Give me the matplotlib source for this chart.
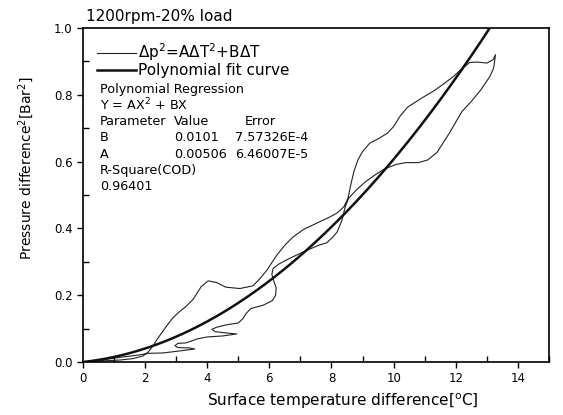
import numpy as np
import matplotlib.pyplot as plt
from matplotlib.ticker import MultipleLocator

plt.rcParams['font.family'] = ['DejaVu Sans']
plt.rcParams['mathtext.fontset'] = 'dejavusans'

# measured loop: temperature difference vs pressure difference^2
# (up branch then back down to origin)
dT = [0.0, 0.6, 1.2, 1.6, 1.93, 2.1, 2.25, 2.4, 2.57, 2.75, 2.9, 3.1, 3.3, 3.55,
      3.8, 4.03, 4.3, 4.6, 5.05, 5.47, 5.7, 5.92, 6.24, 6.5, 6.76, 7.1, 7.53, 7.9,
      8.18, 8.4, 8.53, 8.62, 8.72, 8.85, 9.0, 9.24, 9.5, 9.8, 10.0, 10.2, 10.45,
      10.9, 11.3, 11.6, 11.9, 12.2, 12.45, 12.7, 13.0, 13.2, 13.28,
      13.22, 13.1, 12.8, 12.5, 12.2, 11.8, 11.4, 11.1, 10.8, 10.4, 10.1, 9.7,
      9.4, 9.1, 8.8, 8.55, 8.44, 8.34, 8.18, 8.05, 7.85, 7.6, 7.1, 6.6, 6.3,
      6.12, 6.08, 6.15, 6.22, 6.2, 6.1, 5.8, 5.4, 5.25, 5.15, 5.0, 4.6, 4.3,
      4.15, 4.25, 4.6, 4.95, 4.5, 4.0, 3.67, 3.44, 3.3, 3.06, 2.96, 3.06, 3.44,
      3.6, 3.1, 2.57, 2.1, 1.8, 1.2, 0.6, 0.0]
dP2 = [0.0, 0.003, 0.006, 0.01, 0.018, 0.03, 0.048, 0.07, 0.092, 0.115, 0.133,
       0.15, 0.165, 0.188, 0.225, 0.243, 0.238, 0.224, 0.22, 0.228, 0.25, 0.275,
       0.32, 0.35, 0.374, 0.397, 0.416, 0.432, 0.446, 0.465, 0.49, 0.53, 0.57,
       0.605, 0.63, 0.656, 0.668, 0.685, 0.705, 0.735, 0.763, 0.79, 0.812, 0.832,
       0.853, 0.878, 0.897, 0.898, 0.895, 0.905, 0.92,
       0.88, 0.855, 0.814, 0.78, 0.75, 0.686, 0.628, 0.605, 0.597, 0.597, 0.592,
       0.578, 0.56, 0.54, 0.515, 0.49, 0.464, 0.425, 0.389, 0.375, 0.357, 0.35,
       0.33, 0.308, 0.293, 0.28, 0.262, 0.24, 0.222, 0.2, 0.184, 0.17, 0.16,
       0.145, 0.13, 0.117, 0.111, 0.104, 0.098, 0.091, 0.087, 0.084, 0.078,
       0.075, 0.069, 0.061, 0.057, 0.056, 0.049, 0.043, 0.042, 0.039, 0.033,
       0.027, 0.026, 0.021, 0.014, 0.006, 0.0]

# regression result Y = A*X^2 + B*X
A = 0.00506
B = 0.0101

fig = plt.figure(figsize=(5.63, 4.15), dpi=100)
ax = fig.add_axes([0.1474, 0.1277, 0.8276, 0.8048])

ax.plot(dT, dP2, color='#222222', lw=0.8,
        label=r'$\Delta$p$^2$=A$\Delta$T$^2$+B$\Delta$T')
xf = np.linspace(0, 13.3, 200)
ax.plot(xf, A * xf**2 + B * xf, color='#111111', lw=1.8,
        label='Polynomial fit curve')

ax.set_xlim(0, 15)
ax.set_ylim(0, 1.0)
ax.xaxis.set_major_locator(MultipleLocator(2))
ax.xaxis.set_minor_locator(MultipleLocator(1))
ax.yaxis.set_major_locator(MultipleLocator(0.2))
ax.yaxis.set_minor_locator(MultipleLocator(0.1))
ax.yaxis.set_major_formatter(plt.FormatStrFormatter('%.1f'))
ax.tick_params(which='major', direction='out', length=4, width=1, labelsize=8.5)
ax.tick_params(which='minor', direction='in', length=4, width=1)
for s in ax.spines.values():
    s.set_linewidth(1.2)

ax.set_xlabel(r'Surface temperature difference[$^{\rm o}$C]', fontsize=11)
ax.xaxis.set_label_coords(0.558, -0.088)
ax.set_ylabel(r'Pressure difference$^2$[Bar$^2$]', fontsize=10)
ax.yaxis.set_label_coords(-0.1, 0.58)
ax.text(0.006, 1.012, '1200rpm-20% load', transform=ax.transAxes,
        fontsize=11, va='bottom', ha='left')

leg = ax.legend(loc='upper left', bbox_to_anchor=(0.0, 1.0), frameon=False,
                fontsize=11, handlelength=2.6, handletextpad=0.1,
                labelspacing=0.0, borderaxespad=0.5)

stats = [
    ('Polynomial Regression', '', ''),
    ('Y = AX$^2$ + BX', '', ''),
    ('Parameter', 'Value', 'Error'),
    ('B', '0.0101', '7.57326E-4'),
    ('A', '0.00506', '6.46007E-5'),
    ('R-Square(COD)', '', ''),
    ('0.96401', '', ''),
]
y0 = 89
for i, (c1, c2, c3) in enumerate(stats):
    yy = 1 - (y0 + 16.3 * i) / 415
    fig.text(100 / 563, yy, c1, fontsize=9.2, va='center')
    if c2:
        fig.text(174 / 563, yy, c2, fontsize=9.2, va='center')
    if c3:
        x3 = 245 if c3 == 'Error' else 235
        fig.text(x3 / 563, yy, c3, fontsize=9.2, va='center')

fig.savefig('out.png', dpi=100)
